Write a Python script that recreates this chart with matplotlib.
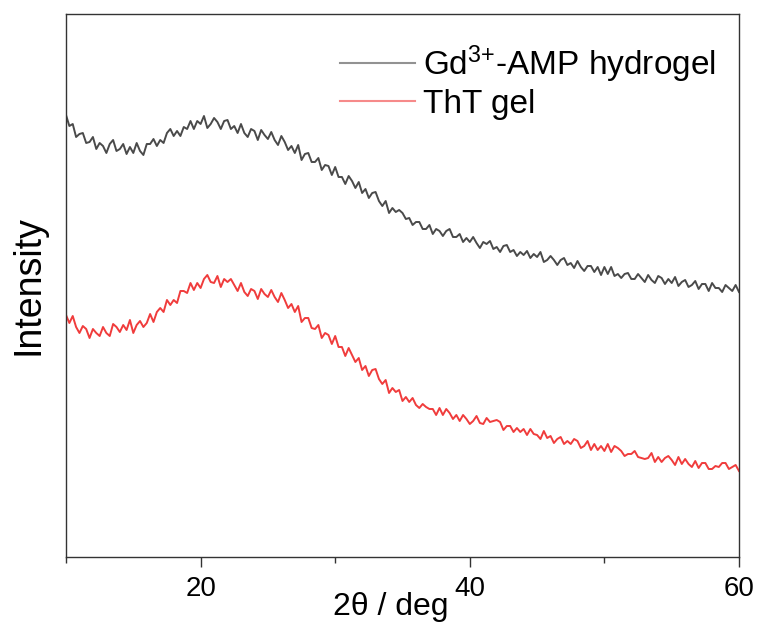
import numpy as np
import matplotlib
matplotlib.use("Agg")
import matplotlib.pyplot as plt
from matplotlib.ticker import MultipleLocator, NullFormatter

plt.rcParams['font.family'] = ['Liberation Sans', 'DejaVu Sans']
plt.rcParams['mathtext.fontset'] = 'custom'
plt.rcParams['mathtext.rm'] = 'Liberation Sans'
plt.rcParams['mathtext.it'] = 'Liberation Sans:italic'
plt.rcParams['mathtext.bf'] = 'Liberation Sans:bold'

# 2-theta scan positions (deg), 0.25 deg steps from 10 to 60
two_theta = np.linspace(10, 60, 201)

# Intensities (a.u.), four points per degree
gd_amp = [
    442, 431, 433, 420,  423, 424, 414, 415,  420, 408, 414, 411,  404, 413, 417, 406,
    408, 413, 403, 410,  404, 414, 406, 402,  413, 413, 418, 411,  417, 414, 424, 428,
    421, 426, 421, 430,  428, 436, 428, 436,  433, 441, 429, 433,  439, 435, 428, 436,
    437, 428, 431, 424,  433, 424, 420, 428,  426, 417, 427, 422,  418, 425, 417, 412,
    421, 415, 407, 411,  404, 412, 397, 403,  404, 395, 395, 399,  387, 392, 391, 382,
    390, 380, 380, 373,  381, 376, 369, 375,  364, 368, 359, 364,  365, 356, 351, 356,
    344, 349, 345, 347,  344, 338, 339, 332,  335, 335, 328, 328,  332, 323, 328, 326,
    321, 326, 328, 320,  320, 323, 315, 319,  315, 320, 314, 309,  315, 313, 316, 308,
    310, 305, 311, 312,  305, 307, 301, 305,  302, 306, 299, 303,  300, 305, 295, 297,
    301, 297, 292, 297,  299, 292, 294, 289,  296, 290, 286, 291,  291, 285, 290, 282,
    290, 283, 290, 281,  283, 279, 283, 284,  278, 278, 283, 279,  275, 282, 277, 274,
    281, 279, 273, 278,  274, 280, 271, 275,  277, 270, 272, 276,  268, 273, 273, 266,
    274, 269, 269, 265,  272, 269, 266, 272,  265,
]

tht_gel = [
    242, 234, 241, 230,  224, 231, 228, 219,  228, 224, 221, 230,  224, 221, 233, 230,
    225, 232, 227, 237,  224, 232, 236, 230,  234, 243, 235, 245,  249, 245, 257, 252,
    257, 254, 266, 266,  264, 274, 267, 274,  269, 278, 282, 275,  274, 281, 270, 278,
    275, 278, 272, 266,  274, 265, 261, 268,  266, 258, 268, 263,  260, 267, 260, 255,
    264, 257, 249, 253,  245, 251, 235, 239,  239, 229, 228, 232,  219, 224, 222, 213,
    221, 210, 210, 201,  209, 202, 195, 199,  187, 191, 181, 187,  188, 178, 173, 177,
    164, 169, 165, 167,  156, 160, 155, 159,  152, 149, 153, 150,  148, 148, 142, 149,
    142, 148, 144, 138,  142, 136, 142, 138,  133, 136, 141, 134,  133, 139, 135, 136,
    137, 135, 127, 131,  131, 125, 129, 125,  128, 122, 128, 123,  122, 118, 126, 119,
    121, 114, 118, 120,  113, 116, 113, 118,  116, 109, 111, 116,  107, 113, 107, 111,
    106, 113, 105, 111,  109, 106, 101, 103,  103, 106, 100, 99,   98, 99, 104, 95,
    100, 95, 99, 101,    97, 92, 100, 93,    98, 93, 90, 96,     89, 94, 94, 88,
    88, 91, 90, 94,      94, 88, 90, 92,     86,
]

series_labels = ['Gd$^{3{+}}$-AMP hydrogel', 'ThT gel']
series_colors = ['#4a4a4a', '#f03c3c']

W, H = 759, 628
fig = plt.figure(figsize=(W / 100, H / 100), dpi=100)
ax = fig.add_axes([66 / W, 1 - 557 / H, (739 - 66) / W, (557 - 14) / H])

ax.plot(two_theta, gd_amp, color=series_colors[0], lw=1.4, label=series_labels[0])
ax.plot(two_theta, tht_gel, color=series_colors[1], lw=1.4, label=series_labels[1])

ax.set_xlim(10, 60)
ax.set_ylim(0, 543)

ax.xaxis.set_major_locator(MultipleLocator(20))
ax.xaxis.set_minor_locator(MultipleLocator(10))
ax.xaxis.set_minor_formatter(NullFormatter())
ax.set_yticks([])
ax.tick_params(axis='x', which='major', direction='out', length=7.5, width=1.0,
               labelsize=20, pad=6, color='#333333')
ax.tick_params(axis='x', which='minor', direction='out', length=4.5, width=1.0,
               color='#333333')
for s in ax.spines.values():
    s.set_linewidth(1.0)
    s.set_color('#333333')

ax.set_xlabel('2θ / deg', fontsize=23)
ax.xaxis.label.set_verticalalignment('center')
ax.xaxis.set_label_coords((391 - 66) / 673, (557 - 607) / 543)
ax.set_ylabel('Intensity', fontsize=27)
ax.yaxis.label.set_verticalalignment('center')
ax.yaxis.set_label_coords((29 - 66) / 673, 0.5)

leg = ax.legend(loc='center left', bbox_to_anchor=(340 / W, 1 - 81.5 / H),
                bbox_transform=fig.transFigure, frameon=False, fontsize=24,
                handlelength=2.25, handletextpad=0.25, labelspacing=0.12,
                borderpad=0, borderaxespad=0)
for line in leg.get_lines():
    line.set_linewidth(1.5)
    line.set_alpha(0.6)

fig.savefig('out.png', dpi=100)
